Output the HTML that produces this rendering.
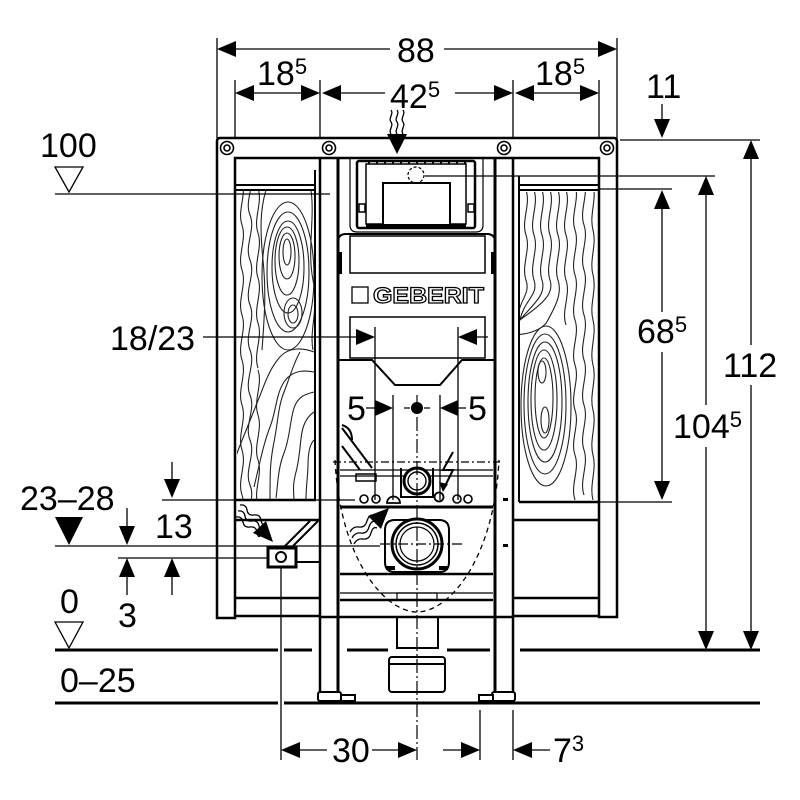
<!DOCTYPE html>
<html><head><meta charset="utf-8"><style>
html,body{margin:0;padding:0;background:#fff;}
svg{display:block;}
text{font-family:"Liberation Sans",sans-serif;font-size:34px;fill:#000;}
</style></head><body>
<svg width="800" height="800" viewBox="0 0 800 800" xmlns="http://www.w3.org/2000/svg">
<rect width="800" height="800" fill="#fff"/>
<defs>
<clipPath id="cl"><rect x="237" y="191" width="78" height="308"/></clipPath>
<clipPath id="cr"><rect x="520" y="192" width="78" height="309"/></clipPath>
</defs>

<!-- ===== wood grain left ===== -->
<g clip-path="url(#cl)" fill="none" stroke="#222" stroke-width="1.1">
<path d="M242,180 c5,15 -5,30 0,45 s-5,30 0,45 s-5,30 0,45 s-5,30 0,45 s-5,30 0,45 s-5,30 0,45 s-5,30 0,45 s-5,30 0,45"/>
<path d="M250,170 c6,15 -6,30 0,45 s-6,30 0,45 s-6,30 0,45 s-6,30 0,45 s-6,30 0,45 s-6,30 0,45 s-6,30 0,45 s-6,30 0,45"/>
<path d="M258,188 c5,15 -5,30 0,45 s-5,30 0,45 s-5,30 0,45 s-5,30 0,45"/>
<path d="M266,190 c-6,20 -6,40 -3,70 s2,50 -1,90"/>
<ellipse cx="287" cy="252" rx="4" ry="13"/>
<ellipse cx="287" cy="256" rx="8" ry="23"/>
<ellipse cx="287" cy="261" rx="12" ry="34"/>
<ellipse cx="288" cy="267" rx="16" ry="46"/>
<ellipse cx="288" cy="272" rx="21" ry="60"/>
<ellipse cx="288" cy="276" rx="26" ry="74"/>
<ellipse cx="293" cy="314" rx="5" ry="9"/>
<ellipse cx="293" cy="313" rx="9" ry="15"/>
<path d="M311,190 c4,30 -4,60 2,90 s-4,50 0,70"/>
<path d="M314,352 c-10,-4 -25,-6 -35,6 s-14,25 -20,40 s-12,30 -20,50 s-6,20 -4,60"/>
<path d="M314,372 c-10,-2 -22,-2 -30,10 s-8,30 -14,45 s-10,35 -16,60"/>
<path d="M314,392 c-8,2 -16,4 -20,16 s-4,30 -10,45 s-6,30 -8,45"/>
<path d="M314,412 c-6,4 -10,10 -12,20 s-2,25 -6,40 s-2,20 -2,30"/>
<path d="M314,440 c-5,5 -6,15 -6,25 s-2,20 -2,35"/>
<path d="M300,352 c-6,10 -10,25 -16,40 s-6,30 -10,50 s-4,30 -4,60"/>
<path d="M258,370 c5,15 -5,30 0,45 s-5,30 0,45 s-5,30 0,45"/>
</g>

<!-- ===== wood grain right ===== -->
<g clip-path="url(#cr)" fill="none" stroke="#222" stroke-width="1.1">
<path d="M526,190 c5,15 -5,30 0,45 s-5,30 0,45 s-8,20 -8,40"/>
<path d="M534,190 c5,15 -5,30 0,45 s-5,30 0,45 s-10,20 -14,40"/>
<path d="M542,190 c5,15 -5,30 0,45 s-5,30 0,45 s-10,25 -22,40"/>
<path d="M550,190 c5,15 -5,30 0,45 s-5,30 0,45 s-10,25 -30,40"/>
<path d="M558,190 c5,15 -5,30 0,45 s-5,30 0,45 s-5,30 -10,40 s-20,15 -38,15"/>
<path d="M566,190 c5,15 -5,30 0,45 s-5,30 0,45 s-5,30 0,45"/>
<path d="M575,185 c5,15 -5,30 0,45 s-5,30 0,45 s-5,30 0,45 s-5,30 0,45 s-5,30 0,45 s-5,30 0,45 s-5,30 0,45"/>
<path d="M584,180 c5,15 -5,30 0,45 s-5,30 0,45 s-5,30 0,45 s-5,30 0,45 s-5,30 0,45 s-5,30 0,45 s-5,30 0,45"/>
<path d="M593,185 c4,15 -4,30 0,45 s-4,30 0,45 s-4,30 0,45 s-4,30 0,45 s-4,30 0,45 s-4,30 0,45 s-4,30 0,45"/>
<ellipse cx="542" cy="372" rx="4" ry="11"/>
<ellipse cx="545" cy="420" rx="4" ry="13"/>
<ellipse cx="544" cy="398" rx="9" ry="40"/>
<ellipse cx="544" cy="400" rx="13" ry="50"/>
<ellipse cx="545" cy="402" rx="17" ry="60"/>
<ellipse cx="545" cy="404" rx="21" ry="70"/>
<ellipse cx="546" cy="406" rx="25" ry="80"/>
</g>

<!-- ===== frame ===== -->
<g fill="none" stroke="#000" stroke-width="2.5">
<path d="M217,618 V141 Q217,138 220,138 H614 Q617,138 617,141 V617 H599 V158 H235 V618 Z"/>
<path d="M320,158 V700 M513,158 V700"/>
<path d="M338,158 V700 M495,158 V700" stroke-width="3"/>
<path d="M235,598 H320 M235,616 H320 M513,598 H599 M513,616 H599"/>
<path d="M235,500 H316 M235,520 H320 M519,502 H599 M513,520 H599"/>
<path d="M315,170 V500 M519,176 V502" stroke-width="2"/>
<path d="M235,185 H315 M235,190 H315 M519,185 H599 M519,190 H599" stroke-width="2"/>
<path d="M320,617 H513" stroke-width="2.5"/>
</g>

<!-- bolts -->
<g fill="#fff" stroke="#000" stroke-width="1.6">
<circle cx="227" cy="148" r="6.5"/><circle cx="227" cy="148" r="3"/>
<circle cx="329" cy="148" r="6.5"/><circle cx="329" cy="148" r="3"/>
<circle cx="504" cy="148" r="6.5"/><circle cx="504" cy="148" r="3"/>
<circle cx="607" cy="148" r="6.5"/><circle cx="607" cy="148" r="3"/>
</g>

<!-- ===== cistern top ===== -->
<g fill="none" stroke="#000">
<path d="M350,158 V225 Q350,232 357,232 H476 Q483,232 483,225 V158" stroke-width="1.2"/>
<rect x="357" y="161" width="118" height="67" rx="2" stroke-width="2.5"/>
<rect x="366" y="164" width="100" height="60" stroke-width="1.5"/>
<line x1="368" y1="163" x2="466" y2="163" stroke-width="3" stroke-dasharray="2,6"/>
<rect x="383" y="183" width="67" height="42" stroke-width="2" fill="#fff"/>
<line x1="366" y1="226" x2="466" y2="226" stroke-width="3"/>
<circle cx="416" cy="175" r="8" stroke-dasharray="3,2" stroke-width="1.2"/>
<rect x="359" y="204" width="6" height="8" stroke-width="1.5"/>
<rect x="468" y="204" width="6" height="8" stroke-width="1.5"/>
</g>

<!-- ===== cistern body ===== -->
<g fill="none" stroke="#000">
<path d="M338,242 Q338,234 346,234 H487 Q495,234 495,242" stroke-width="2"/>
<rect x="350" y="236" width="135" height="37" stroke-width="1.5"/>
<rect x="352" y="287" width="16" height="16" stroke-width="1.3"/>
<rect x="350" y="317" width="135" height="41" stroke-width="1.5"/>
<path d="M338,360 H372 L395,385 H440 L462,360 H495" stroke-width="2"/>
</g>
<rect x="339" y="252" width="3" height="22" fill="#000"/>
<rect x="491" y="252" width="3" height="22" fill="#000"/>
<text x="373" y="303" font-size="22" font-weight="bold" textLength="111" lengthAdjust="spacingAndGlyphs" style="font-size:22px;font-weight:bold;fill:#fff;stroke:#000;stroke-width:1.2px">GEBERIT</text>

<!-- ===== lower mechanism ===== -->
<g fill="none" stroke="#000">
<path d="M342,428 L372,468 M342,446 L360,470 M342,425 Q352,428 352,440" stroke-width="2"/>
<line x1="333" y1="462" x2="500" y2="462" stroke-width="1.3" stroke-dasharray="8,3,2,3"/>
<path d="M340,470 H493 M340,476 H493" stroke-width="1.2"/>
<rect x="356" y="474" width="20" height="7" stroke-width="1.5"/>
<path d="M401,468 V497 H433 V468" stroke-width="2"/>
<circle cx="417" cy="481" r="13" stroke-width="3" fill="#fff"/>
<circle cx="417" cy="481" r="9" stroke-width="1.4"/>
<path d="M453,452 L443,470 L453,470 L445,486" stroke-width="2"/>
<path d="M340,507 H493" stroke-width="3"/>
<circle cx="364" cy="499" r="4" stroke-width="1.6"/>
<circle cx="376" cy="499" r="4" stroke-width="1.6"/>
<path d="M387,503 A6.5,6.5 0 1 1 400,503 Z" stroke-width="1.8"/>
<circle cx="439" cy="497" r="4.5" stroke-width="1.8"/>
<circle cx="457" cy="499" r="4" stroke-width="1.6"/>
<circle cx="468" cy="499" r="4" stroke-width="1.6"/>
<path d="M385,530 Q385,520 395,520 H439 Q449,520 449,530 V562 Q449,572 439,572 H395 Q385,572 385,562 Z" stroke-width="2"/>
<path d="M386,568 H395 M439,568 H448" stroke-width="4"/>
<circle cx="417" cy="544" r="25" stroke-width="3" fill="#fff"/>
<circle cx="417" cy="544" r="21" stroke-width="1.5"/>
<circle cx="417" cy="544" r="17" stroke-width="1.2"/>
<path d="M340,574 H493" stroke-width="2.5"/>
<path d="M340,593 H493" stroke-width="1.2"/>
<path d="M340,600 H493" stroke-width="2.5"/>
<rect x="397" y="593" width="40" height="7" stroke-width="1.2"/>
<path d="M335,460 C340,560 385,612 417,612 C449,612 494,560 499,460" stroke-width="1.3" stroke-dasharray="5,4"/>
<rect x="397" y="617" width="41" height="31" stroke-width="2"/>
<rect x="389" y="657" width="56" height="35" rx="3" stroke-width="2"/>
<line x1="389" y1="664" x2="445" y2="664" stroke-width="2"/>
</g>
<polygon points="443,492 439,482 448,484" fill="#000"/>
<rect x="503" y="498" width="5" height="3" fill="#000"/>
<rect x="503" y="544" width="5" height="3" fill="#000"/>

<!-- feet -->
<g fill="#fff" stroke="#000" stroke-width="2">
<rect x="318" y="692" width="23" height="9" rx="2"/>
<rect x="341" y="695" width="14" height="6"/>
<rect x="492" y="692" width="23" height="9" rx="2"/>
<rect x="479" y="695" width="14" height="6"/>
</g>

<!-- left bay lower -->
<g fill="none" stroke="#000">
<path d="M318,521 L293,546 M310,521 L285,546" stroke-width="2"/>
<path d="M297,562 H320 M292,547 V566" stroke-width="2"/>
<rect x="268" y="548" width="28" height="19" stroke-width="3" fill="#fff"/>
<circle cx="281" cy="557" r="5" stroke-width="2"/>
</g>

<!-- ===== centerlines ===== -->
<g fill="none" stroke="#000" stroke-width="1.2">
<line x1="417" y1="395" x2="417" y2="760" stroke-dasharray="14,3,2,3"/>
<line x1="380" y1="544" x2="462" y2="544" stroke-dasharray="10,3,2,3"/>
</g>

<!-- ===== dimension lines ===== -->
<g fill="none" stroke="#000" stroke-width="1.3">
<path d="M217,38 V138 M617,38 V138 M235,80 V138 M320,80 V138 M513,80 V138 M599,80 V138"/>
<path d="M236,49 H390 M444,49 H598"/>
<path d="M254,93 H301 M341,93 H385 M455,93 H494 M534,93 H580"/>
<path d="M620,140 H760 M425,176 H715 M600,189 H672 M600,502 H672"/>
<path d="M662,104 V120"/>
<path d="M751,159 V345 M751,385 V631"/>
<path d="M706,195 V405 M706,447 V631"/>
<path d="M662,209 V312 M662,352 V481"/>
<path d="M55,194 H330"/>
<path d="M203,337 H357 M477,337 H488"/>
<path d="M375,327 V500 M393,395 V500 M440,395 V500 M458,327 V500"/>
<path d="M366,408 H375 M458,408 H466 M404,408 H410 M424,408 H430"/>
<path d="M162,500 H355"/>
<path d="M172,462 V480 M172,577 V595"/>
<path d="M55,546 H380 M118,558 H268"/>
<path d="M127,508 V526 M127,577 V595"/>
<path d="M281,567 V760 M480,710 V760 M513,710 V760"/>
<path d="M300,750 H327 M372,750 H398 M443,750 H461 M532,750 H550"/>
</g>
<g fill="none" stroke="#000" stroke-width="3">
<path d="M55,650 H278 M284,650 H312 M347,650 H388 M447,650 H490 M520,650 H760"/>
<path d="M55,703 H278 M284,703 H760"/>
</g>
<g fill="#fff" stroke="#000" stroke-width="1.3">
<polygon points="55,167 83,167 69,192"/>
<polygon points="55,622 83,622 69,648"/>
</g>
<polygon points="55,517 83,517 69,545" fill="#000"/>
<circle cx="417" cy="408" r="6" fill="#000"/>

<!-- arrowheads -->
<g fill="#000">
<polygon points="217,49 236,41 236,57"/>
<polygon points="617,49 598,41 598,57"/>
<polygon points="235,93 254,85 254,101"/>
<polygon points="320,93 301,85 301,101"/>
<polygon points="322,93 341,85 341,101"/>
<polygon points="513,93 494,85 494,101"/>
<polygon points="515,93 534,85 534,101"/>
<polygon points="599,93 580,85 580,101"/>
<polygon points="662,138 654,119 670,119"/>
<polygon points="751,140 743,159 759,159"/>
<polygon points="751,650 743,631 759,631"/>
<polygon points="706,176 698,195 714,195"/>
<polygon points="706,650 698,631 714,631"/>
<polygon points="662,190 654,209 670,209"/>
<polygon points="662,500 654,481 670,481"/>
<polygon points="375,337 356,329 356,345"/>
<polygon points="458,337 477,329 477,345"/>
<polygon points="393,408 375,400 375,416"/>
<polygon points="440,408 458,400 458,416"/>
<polygon points="172,498 164,479 180,479"/>
<polygon points="172,558 164,577 180,577"/>
<polygon points="127,545 119,526 135,526"/>
<polygon points="127,558 119,577 135,577"/>
<polygon points="281,750 300,742 300,758"/>
<polygon points="417,750 398,742 398,758"/>
<polygon points="480,750 461,742 461,758"/>
<polygon points="513,750 532,742 532,758"/>
<polygon points="397,154 387,134 407,134"/>
<polygon points="273,542 253,533 266,521"/>
<polygon points="389,508 381,529 368,516"/>
</g>

<!-- wavy arrows -->
<g fill="none" stroke="#000" stroke-width="1.3">
<path d="M391,110 c3,4 -3,8 0,12 s-3,8 0,12"/>
<path d="M397,110 c3,4 -3,8 0,12 s-3,8 0,12"/>
<path d="M403,110 c3,4 -3,8 0,12 s-3,8 0,12"/>
<path d="M240,505 q6,-1 7,5 t7,5 t7,5 t5,6"/>
<path d="M238,511 q6,-1 7,5 t7,5 t7,5 t5,6"/>
<path d="M236,517 q6,-1 7,5 t7,5 t7,5 t3,4"/>
<path d="M350,532 q3,-6 9,-5 t8,-6 t8,-6"/>
<path d="M352,538 q3,-6 9,-5 t8,-6 t8,-6"/>
<path d="M354,544 q3,-6 9,-5 t8,-6 t6,-5"/>
</g>

<!-- ===== labels ===== -->
<text x="397" y="62">88</text>
<text x="257" y="85">18<tspan font-size="22" dy="-11" style="font-size:22px">5</tspan></text>
<text x="390" y="108">42<tspan font-size="22" dy="-11" style="font-size:22px">5</tspan></text>
<text x="535" y="85">18<tspan font-size="22" dy="-11" style="font-size:22px">5</tspan></text>
<text x="646" y="98">11</text>
<text x="40" y="157">100</text>
<text x="110" y="350">18/23</text>
<text x="347" y="420">5</text>
<text x="468" y="420">5</text>
<text x="637" y="343">68<tspan font-size="22" dy="-11" style="font-size:22px">5</tspan></text>
<text x="673" y="438">104<tspan font-size="22" dy="-11" style="font-size:22px">5</tspan></text>
<text x="723" y="377">112</text>
<text x="20" y="510">23–28</text>
<text x="155" y="538">13</text>
<text x="118" y="627">3</text>
<text x="60" y="613">0</text>
<text x="60" y="692">0–25</text>
<text x="332" y="762">30</text>
<text x="553" y="762">7<tspan font-size="22" dy="-11" style="font-size:22px">3</tspan></text>
</svg>
</body></html>
